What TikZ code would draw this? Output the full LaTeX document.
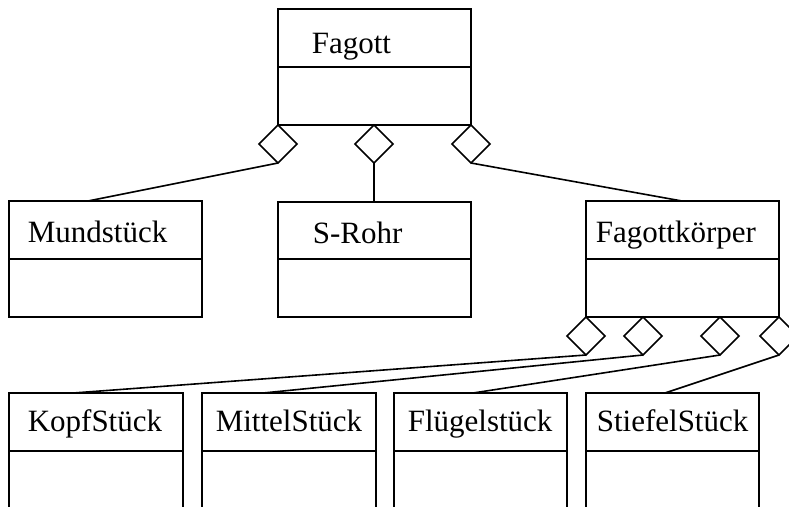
\documentclass[tikz,border=0pt]{standalone}
\usepackage{fontspec}
\setmainfont{Liberation Serif}
\usetikzlibrary{shapes.geometric,calc}
\begin{document}
\begin{tikzpicture}[x=1pt,y=-1pt,
  line width=1.6pt,
  classbox/.style n args={2}{draw, rectangle, anchor=north west, inner sep=0pt,
    outer sep=0pt, minimum width=#1, minimum height=#2},
  lbl/.style={anchor=base west, inner sep=0pt, font=\fontsize{31}{31}\selectfont},
  agg/.style={draw, diamond, fill=white, anchor=north, inner sep=0pt, outer sep=0pt,
    minimum width=38pt, minimum height=38pt}]
\useasboundingbox (0,0) rectangle (789,506);
\clip (0,0) rectangle (789,506);

% class boxes
\node[classbox={193pt}{116pt}] (fagott) at (278,9) {};
\node[classbox={193pt}{116pt}] (mund)   at (9,201) {};
\node[classbox={193pt}{115pt}] (srohr)  at (278,202) {};
\node[classbox={193pt}{116pt}] (korper) at (586,201) {};
\node[classbox={174pt}{160pt}] (kopf)   at (9,393) {};
\node[classbox={174pt}{160pt}] (mittel) at (202,393) {};
\node[classbox={173pt}{160pt}] (fluegel) at (394,393) {};
\node[classbox={173pt}{160pt}] (stiefel) at (586,393) {};

% compartment dividers
\foreach \c in {fagott,mund,korper,kopf,mittel,fluegel,stiefel}
  \draw ([yshift=-58pt]\c.north west) -- ([yshift=-58pt]\c.north east);
\draw ([yshift=-57pt]srohr.north west) -- ([yshift=-57pt]srohr.north east);

% class names
\node[lbl] (tfagott) at (311,53) {Fagott};
\node[lbl] (tmund)   at (27,242) {Mundstück};
\node[lbl] (tsrohr)  at (312,243) {S-Rohr};
\node[lbl] (tkorper) at (595,242) {Fagottkörper};
\node[lbl] (tkopf)   at (27,431) {KopfStück};
\node[lbl] (tmittel) at (215,431) {MittelStück};
\node[lbl] (tfluegel) at (407,431) {Flügelstück};
\node[lbl] (tstiefel) at (596,431) {StiefelStück};

% aggregation diamonds on Fagott
\node[agg] (fa1) at (fagott.south west) {};
\node[agg] (fa2) at ($(fagott.south west)+(96,0)$) {};
\node[agg] (fa3) at (fagott.south east) {};

% aggregation diamonds on Fagottkörper
\node[agg] (ka1) at (korper.south west) {};
\node[agg] (ka2) at ($(korper.south west)+(57,0)$) {};
\node[agg] (ka3) at ($(korper.south west)+(134,0)$) {};
\node[agg] (ka4) at (korper.south east) {};

% associations
\draw (fa1.south) -- ($(mund.north west)+(79,0)$);
\draw (fa2.south) -- (fa2.south |- srohr.north);
\draw (fa3.south) -- ($(korper.north west)+(96,0)$);
\draw (ka1.south) -- ($(kopf.north west)+(64,0)$);
\draw (ka2.south) -- ($(mittel.north west)+(61,0)$);
\draw (ka3.south) -- ($(fluegel.north west)+(79,0)$);
\draw (ka4.south) -- ($(stiefel.north west)+(79,0)$);
\end{tikzpicture}
\end{document}
